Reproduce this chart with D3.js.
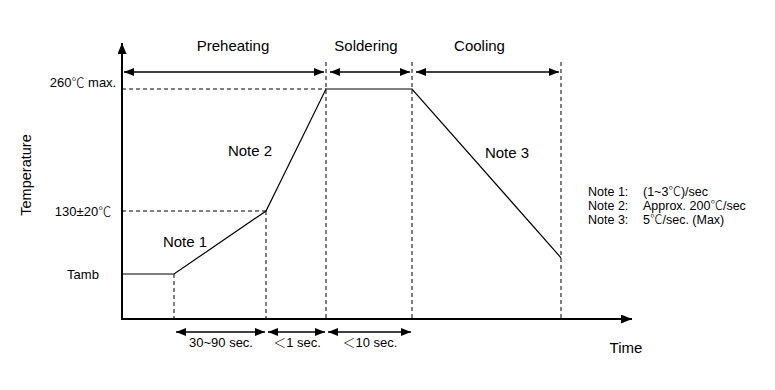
<!DOCTYPE html>
<html>
<head>
<meta charset="utf-8">
<script src="https://cdn.jsdelivr.net/npm/d3@7"></script>
<style>
  body { margin: 0; background: #fff; }
  text { font-family: "Liberation Sans", Arial, "Noto Sans CJK JP", sans-serif; fill: #000; }
  tspan.cjk { font-family: "Noto Sans CJK JP", sans-serif; font-weight: 300; }
</style>
</head>
<body>
<div id="chart"></div>
<script>
// stage index along the time axis (schematic, not to scale)
const stages = ["origin", "rampStart", "preheatEnd", "peakStart", "peakEnd", "coolEnd", "axisEnd"];
// temperature levels (schematic)
const tempLevels = [0, 25, 130, 260];
const levelLabels = ["Tamb", "130±20℃", "260℃ max."];
const levelTemps = [25, 130, 260];

// the reflow profile
const profileStage = [0, 1, 2, 3, 4, 5];
const profileTemp = [25, 25, 130, 260, 260, 52];

// phases on top
const phaseNames = ["Preheating", "Soldering", "Cooling"];
const phaseFrom = [0, 3, 4];
const phaseTo = [3, 4, 5];

// durations at the bottom
const durLabels = ["30~90 sec.", "＜1 sec.", "＜10 sec."];
const durFrom = [1, 2, 3];
const durTo = [2, 3, 4];

// notes
const noteNames = ["Note 1", "Note 2", "Note 3"];
const noteText = ["(1~3℃)/sec", "Approx. 200℃/sec", "5℃/sec. (Max)"];

const W = 775, H = 390;
const svg = d3.select("#chart").append("svg").attr("width", W).attr("height", H);

const x = d3.scaleLinear().domain(d3.range(stages.length)).range([122, 174, 266, 326, 412, 561, 632]);
const y = d3.scaleLinear().domain(tempLevels).range([319, 274, 211, 89]);
const topY = 72, botY = 332;

// put ℃ and ＜ in a CJK font like the original
function richText(sel) {
    sel.each(function(d) {
        const t = d3.select(this);
        t.text(null);
        d.split(/([℃＜])/).forEach(part => {
            if (!part) return;
            const sp = t.append("tspan").text(part);
            if (part === "℃" || part === "＜") sp.attr("class", "cjk");
        });
    });
}

// arrow marker
const defs = svg.append("defs");
function marker(id, len, wid) {
    defs.append("marker")
        .attr("id", id)
        .attr("markerUnits", "userSpaceOnUse")
        .attr("viewBox", `0 0 ${len} ${wid}`)
        .attr("markerWidth", len).attr("markerHeight", wid)
        .attr("refX", len).attr("refY", wid / 2)
        .attr("orient", "auto-start-reverse")
        .append("path")
        .attr("d", `M0,0L${len},${wid / 2}L0,${wid}Z`)
        .attr("fill", "#000");
}
marker("ah", 10, 8);
marker("axh", 11, 9);

// dashed guides
const dash = "4,3";
const g = svg.append("g");
// horizontal guides
[130, 260].forEach(t => {
    const i = profileTemp.indexOf(t);
    g.append("line")
        .attr("x1", x(0)).attr("x2", x(profileStage[i]))
        .attr("y1", y(t)).attr("y2", y(t))
        .attr("stroke", "#000").attr("stroke-width", 1).attr("stroke-dasharray", dash);
});
// vertical guides
[1, 2].forEach(s => {
    g.append("line")
        .attr("x1", x(s)).attr("x2", x(s))
        .attr("y1", y(profileTemp[s])).attr("y2", y(0))
        .attr("stroke", "#000").attr("stroke-width", 1).attr("stroke-dasharray", dash);
});
[3, 4, 5].forEach(s => {
    g.append("line")
        .attr("x1", x(s)).attr("x2", x(s))
        .attr("y1", topY - 10).attr("y2", y(0))
        .attr("stroke", "#000").attr("stroke-width", 1).attr("stroke-dasharray", dash);
});

// profile line
const line = d3.line().x((d, i) => x(profileStage[i])).y(d => y(d));
svg.append("path")
    .attr("d", line(profileTemp))
    .attr("fill", "none").attr("stroke", "#000").attr("stroke-width", 1.2);

// axes with arrows
svg.append("line")
    .attr("x1", x(0)).attr("x2", x(0))
    .attr("y1", y(0)).attr("y2", 43)
    .attr("stroke", "#000").attr("stroke-width", 2).attr("marker-end", "url(#axh)");
svg.append("line")
    .attr("x1", x(0) - 1).attr("x2", x(6))
    .attr("y1", y(0)).attr("y2", y(0))
    .attr("stroke", "#000").attr("stroke-width", 2).attr("marker-end", "url(#axh)");

// phase arrows
phaseNames.forEach((name, i) => {
    const x1 = x(phaseFrom[i]) + (i === 0 ? 2 : 4), x2 = x(phaseTo[i]) - 2;
    svg.append("line")
        .attr("x1", x1).attr("x2", x2).attr("y1", topY).attr("y2", topY)
        .attr("stroke", "#000").attr("stroke-width", 1.5)
        .attr("marker-start", "url(#ah)").attr("marker-end", "url(#ah)");
});
svg.append("g").selectAll("text").data(phaseNames).join("text")
    .attr("x", (d, i) => i === 0 ? 233 : (x(phaseFrom[i]) + x(phaseTo[i])) / 2 + (i === 2 ? -7 : -3))
    .attr("y", 46).attr("dy", "0.35em")
    .attr("text-anchor", "middle").attr("font-size", 15)
    .text(d => d);

// duration arrows
durLabels.forEach((lab, i) => {
    svg.append("line")
        .attr("x1", x(durFrom[i]) + 2).attr("x2", x(durTo[i]) - 1)
        .attr("y1", botY).attr("y2", botY)
        .attr("stroke", "#000").attr("stroke-width", 1.5)
        .attr("marker-start", "url(#ah)").attr("marker-end", "url(#ah)");
});
svg.append("g").selectAll("text").data(durLabels).join("text")
    .attr("x", (d, i) => (x(durFrom[i]) + x(durTo[i])) / 2 + 1)
    .attr("y", 342).attr("dy", "0.35em")
    .attr("text-anchor", "middle").attr("font-size", 13)
    .call(richText);

// level labels
svg.append("g").selectAll("text").data(levelLabels).join("text")
    .attr("x", 83)
    .attr("y", (d, i) => y(levelTemps[i]) - (levelTemps[i] === 260 ? 7 : 0))
    .attr("dy", "0.35em")
    .attr("text-anchor", "middle").attr("font-size", 13)
    .call(richText);

// axis titles
svg.append("text")
    .attr("transform", "translate(26,175) rotate(-90)")
    .attr("dy", "0.35em").attr("text-anchor", "middle").attr("font-size", 14.5)
    .text("Temperature");
svg.append("text")
    .attr("x", 626).attr("y", 348).attr("dy", "0.35em")
    .attr("text-anchor", "middle").attr("font-size", 15)
    .text("Time");

// note labels near segments
const notePos = [[185, 242], [250, 151], [507, 153]];
svg.append("g").selectAll("text").data(noteNames).join("text")
    .attr("x", (d, i) => notePos[i][0]).attr("y", (d, i) => notePos[i][1])
    .attr("dy", "0.35em").attr("text-anchor", "middle").attr("font-size", 15)
    .text(d => d);

// note legend
const leg = svg.append("g");
leg.selectAll("text.nn").data(noteNames).join("text")
    .attr("class", "nn")
    .attr("x", 588).attr("y", (d, i) => 192 + i * 14).attr("dy", "0.35em")
    .attr("font-size", 12.5).text(d => d + ":");
leg.selectAll("text.nt").data(noteText).join("text")
    .attr("class", "nt")
    .attr("x", 643).attr("y", (d, i) => 192 + i * 14).attr("dy", "0.35em")
    .attr("font-size", 12.5).call(richText);
</script>
</body>
</html>
